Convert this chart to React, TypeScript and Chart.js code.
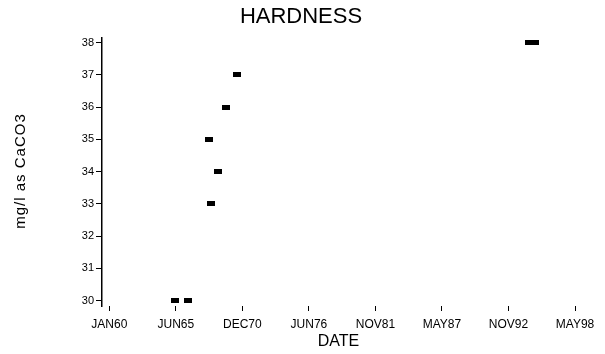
import React, { useEffect, useRef } from "react";
import { Chart, registerables } from "chart.js";

Chart.register(...registerables);

const sampleDates = [
  "1965-06-10",
  "1966-07-07",
  "1968-05-29",
  "1968-12-26",
  "1968-03-30",
  "1969-07-25",
  "1970-06-21",
  "1994-07-21",
  "1995-01-07",
];
const hardness = [30, 30, 33, 34, 35, 36, 37, 38, 38];

const xTickDays = [0, 2000, 4000, 6000, 8000, 10000, 12000, 14000];
const xTickLabels = ["JAN60", "JUN65", "DEC70", "JUN76", "NOV81", "MAY87", "NOV92", "MAY98"];
const yTickValues = [30, 31, 32, 33, 34, 35, 36, 37, 38];
const yTickLabels = ["30", "31", "32", "33", "34", "35", "36", "37", "38"];
const yAxisTitle = "mg/l as CaCO3";

const EPOCH = Date.UTC(1960, 0, 1);
const toDays = (s: string) => {
  const [y, m, d] = s.split("-").map(Number);
  return Math.round((Date.UTC(y, m - 1, d) - EPOCH) / 86400000);
};

const FONT = "'Liberation Sans', Arial, sans-serif";

const yTitlePlugin = {
  id: "yTitle",
  afterDraw(chart: any) {
    const ctx = chart.ctx as CanvasRenderingContext2D;
    ctx.save();
    ctx.translate(21, 171);
    ctx.rotate(-Math.PI / 2);
    ctx.font = `15px ${FONT}`;
    (ctx as any).letterSpacing = "1px";
    ctx.fillStyle = "#000";
    ctx.textAlign = "center";
    ctx.textBaseline = "middle";
    ctx.fillText(yAxisTitle, 0, 0);
    ctx.restore();
  },
};

export default function App() {
  const ref = useRef<HTMLCanvasElement | null>(null);
  useEffect(() => {
    document.body.style.margin = "0";
    const marker = document.createElement("canvas");
    marker.width = 8;
    marker.height = 5;
    const mctx = marker.getContext("2d")!;
    mctx.fillStyle = "#000";
    mctx.fillRect(0, 0, 8, 5);

    const chart = new Chart(ref.current!, {
      type: "scatter",
      data: {
        datasets: [
          {
            data: sampleDates.map((d, i) => ({ x: toDays(d), y: hardness[i] })),
            pointStyle: marker as any,
            backgroundColor: "#000",
            borderColor: "#000",
          },
        ],
      },
      plugins: [yTitlePlugin],
      options: {
        animation: false,
        responsive: false,
        layout: { padding: { left: 27, right: 30, top: 0, bottom: 0 } },
        plugins: {
          legend: { display: false },
          tooltip: { enabled: false },
          title: {
            display: true,
            text: "HARDNESS",
            color: "#000",
            font: { family: FONT, size: 22, weight: "normal" },
            padding: { top: 4, bottom: 7 },
          },
        },
        scales: {
          x: {
            type: "linear",
            min: -220,
            max: 14000,
            border: { display: false },
            grid: { drawOnChartArea: false, drawTicks: true, tickLength: 5, color: "#000" },
            afterBuildTicks: (s: any) => {
              s.ticks = xTickDays.map((v) => ({ value: v }));
            },
            afterFit: (s: any) => {
              s.height = 48;
            },
            ticks: {
              color: "#000",
              font: { family: FONT, size: 12 },
              padding: 6,
              maxRotation: 0,
              autoSkip: false,
              callback: (v: any) => {
                const i = xTickDays.indexOf(Number(v));
                return i >= 0 ? xTickLabels[i] : "";
              },
            },
            title: {
              display: true,
              text: "DATE",
              color: "#000",
              font: { family: FONT, size: 16 },
              padding: { top: 0, bottom: 3 },
            },
          },
          y: {
            type: "linear",
            min: 29.83,
            max: 38.16,
            border: { display: true, color: "#000", width: 1.5 },
            grid: { drawOnChartArea: false, drawTicks: true, tickLength: 6, color: "#000" },
            afterBuildTicks: (s: any) => {
              s.ticks = yTickValues.map((v) => ({ value: v }));
            },
            afterFit: (s: any) => {
              s.width = 75;
            },
            ticks: {
              color: "#000",
              font: { family: FONT, size: 11 },
              padding: 2,
              autoSkip: false,
              callback: (v: any) => {
                const i = yTickValues.indexOf(Number(v));
                return i >= 0 ? yTickLabels[i] : "";
              },
            },
            title: { display: false },
          },
        },
      },
    });
    return () => chart.destroy();
  }, []);
  return (
    <div style={{ position: "absolute", left: 0, top: 0, width: 605, height: 354 }}>
      <canvas ref={ref} width={605} height={354} style={{ width: 605, height: 354 }} />
    </div>
  );
}
